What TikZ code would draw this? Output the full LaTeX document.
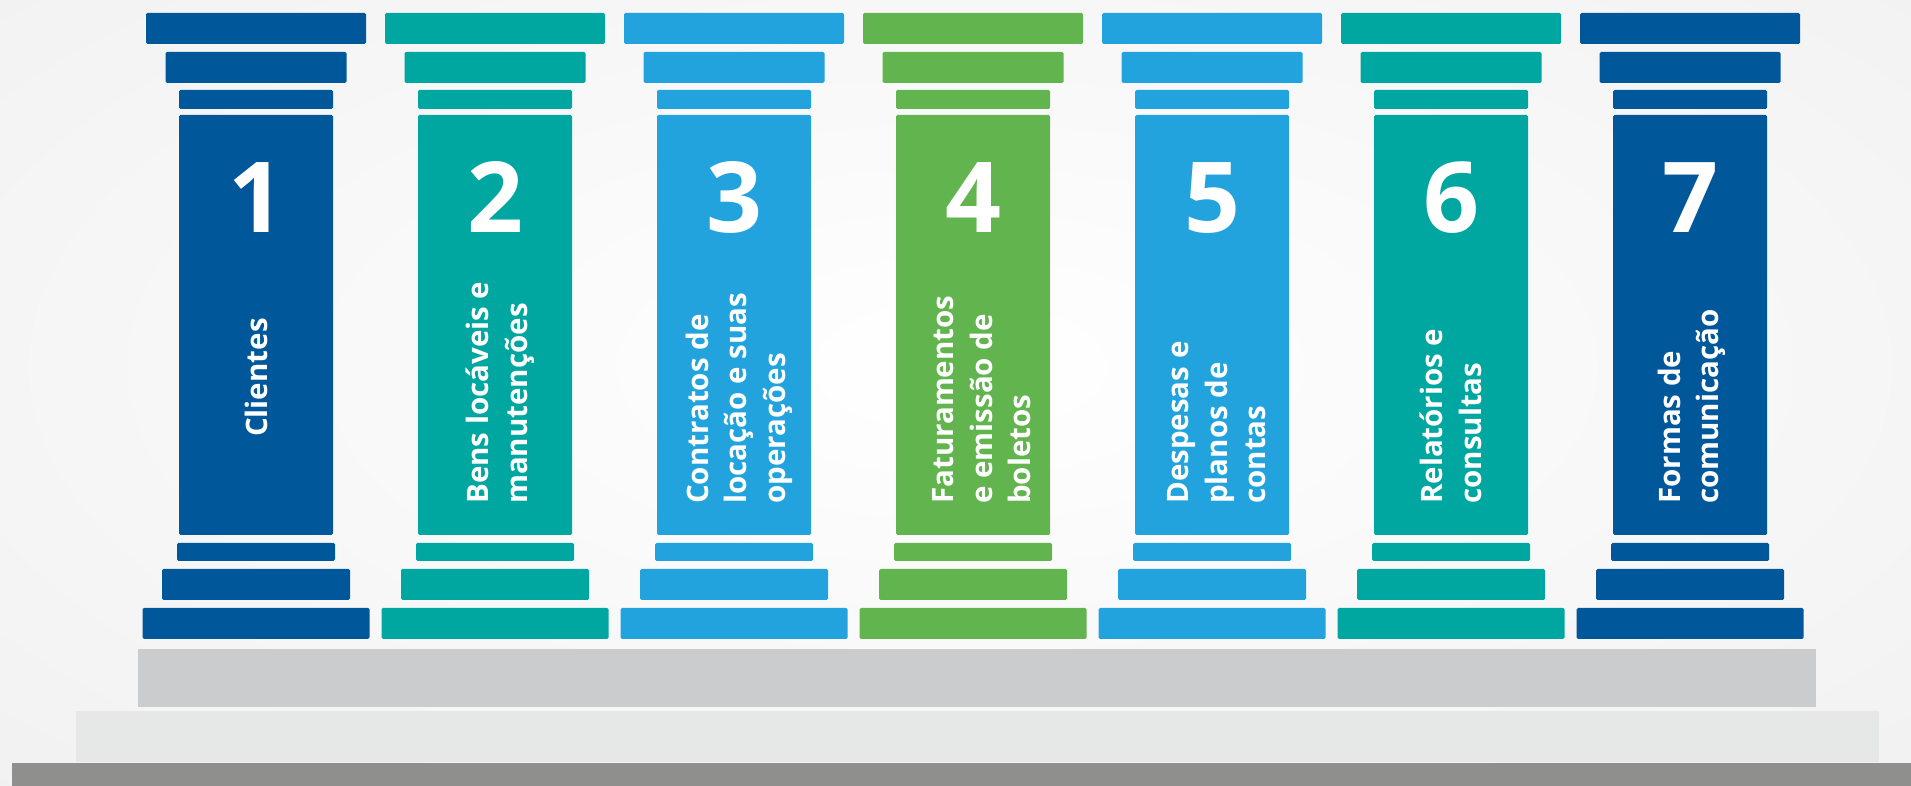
\documentclass[tikz,border=0pt]{standalone}
\usepackage{fontspec}
\setmainfont{Open Sans}
\usetikzlibrary{positioning}

\definecolor{pilblue}{HTML}{00589A}
\definecolor{pilteal}{HTML}{00A6A0}
\definecolor{pilsky}{HTML}{22A3DD}
\definecolor{pilgreen}{HTML}{62B44F}
\definecolor{stepgrey}{HTML}{CBCCCD}
\definecolor{steplight}{HTML}{E6E8E7}
\definecolor{stepdark}{HTML}{8F8F8E}

\begin{document}
\begin{tikzpicture}[x=1pt, y=1pt,
    slab/.style = {rectangle, rounded corners=1.5pt, inner sep=0pt, outer sep=0pt},
    num/.style = {text=white, font=\fontsize{98}{98}\selectfont\bfseries, inner sep=0pt, anchor=base},
    lbl/.style = {text=white, font=\fontsize{29.5}{38.5}\selectfont\bfseries, align=left, rotate=90, anchor=west, inner sep=0pt}]

    \useasboundingbox (0,0) rectangle (1911,786);
    \begin{scope}
        \clip (0,0) rectangle (1911,786);
        \shade[inner color=white, outer color=black!8] (960,420) ellipse (2000 and 900);
    \end{scope}

    % steps under the pillars
    \fill[stepdark] (12,0) rectangle (1911,23);
    \fill[steplight] (76,24) rectangle (1879,75);
    \fill[stepgrey] (138,79) rectangle (1816,137);

    % pillars
    \foreach \i/\c/\dx/\ly/\t in {1/pilblue/0/349/{Clientes},
                                  2/pilteal/5/282/{Bens locáveis e\\manutenções},
                                  3/pilsky/5/282/{Contratos de\\locação e suas\\operações},
                                  4/pilgreen/9/282/{Faturamentos\\e emissão de\\boletos},
                                  5/pilsky/5/282/{Despesas e\\planos de\\contas},
                                  6/pilteal/0/282/{Relatórios e\\consultas},
                                  7/pilblue/2/282/{Formas de\\comunicação}}{
        \pgfmathsetmacro{\x}{256+(\i-1)*239}
        \node[slab, fill=\c, minimum width=154pt, minimum height=420pt] (shaft\i) at (\x,461) {};
        \node[slab, fill=\c, minimum width=154pt, minimum height=19pt, above=6pt of shaft\i] (capa\i) {};
        \node[slab, fill=\c, minimum width=181pt, minimum height=31pt, above=7pt of capa\i] (capb\i) {};
        \node[slab, fill=\c, minimum width=220pt, minimum height=31pt, above=8pt of capb\i] (capc\i) {};
        \node[slab, fill=\c, minimum width=158pt, minimum height=18pt, below=8pt of shaft\i] (foota\i) {};
        \node[slab, fill=\c, minimum width=188pt, minimum height=31pt, below=8pt of foota\i] (footb\i) {};
        \node[slab, fill=\c, minimum width=227pt, minimum height=31pt, below=8pt of footb\i] (footc\i) {};
        \node[num] (num\i) at (\x,553) {\i};
        \node[lbl] (lbl\i) at (\x+\dx,\ly) {\t};
    }
\end{tikzpicture}
\end{document}
